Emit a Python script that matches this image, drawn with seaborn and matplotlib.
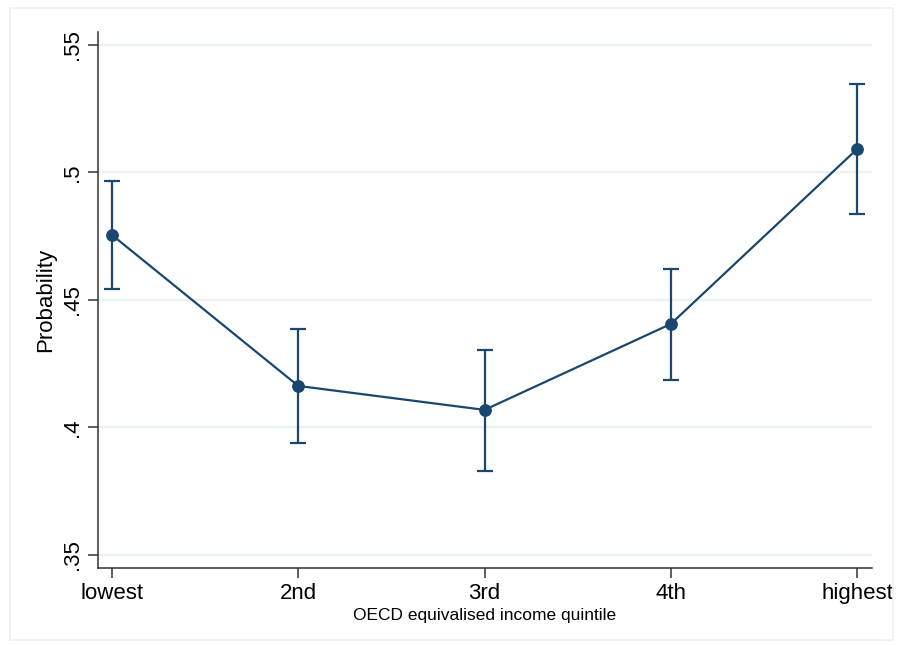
import pandas as pd
import matplotlib.pyplot as plt
import seaborn as sns
from matplotlib.patches import Rectangle

# Predicted probability by income quintile, with 95% CI
quintiles = ['lowest', '2nd', '3rd', '4th', 'highest']
prob = [0.4755, 0.4163, 0.4069, 0.4406, 0.5092]
ci_low = [0.4543, 0.3939, 0.3829, 0.4186, 0.4837]
ci_high = [0.4967, 0.4386, 0.4304, 0.4622, 0.5347]
y_ticks = [0.35, 0.40, 0.45, 0.50, 0.55]
y_labels = ['.35', '.4', '.45', '.5', '.55']

navy = '#1a476f'
grid_col = '#eaf2f3'

df = pd.DataFrame({'quintile': quintiles, 'prob': prob,
                   'lo': ci_low, 'hi': ci_high})

sns.set_style('white')
plt.rcParams['font.family'] = ['Liberation Sans', 'DejaVu Sans']
plt.rcParams['text.color'] = 'black'
plt.rcParams['axes.labelcolor'] = 'black'
plt.rcParams['xtick.color'] = 'black'
plt.rcParams['ytick.color'] = 'black'

fig = plt.figure(figsize=(8.99, 6.45), dpi=100)
ax = fig.add_axes([0.109, 0.1194, 0.861, 0.831])

# outer frame like Stata's graph region
fig.patches.append(Rectangle((10 / 899, 5 / 645), 883 / 899, 632 / 645,
                             transform=fig.transFigure, fill=False,
                             edgecolor=grid_col, linewidth=1.2))

for t in y_ticks:
    ax.axhline(t, color=grid_col, linewidth=1.5, zorder=0)

ax.errorbar(x=range(len(df)), y=df['prob'],
            yerr=[df['prob'] - df['lo'], df['hi'] - df['prob']],
            fmt='none', ecolor=navy, elinewidth=1.6, capsize=5.5,
            capthick=1.6, zorder=2)
sns.pointplot(data=df, x='quintile', y='prob', color=navy, errorbar=None,
              markersize=8, linewidth=1.6, ax=ax, zorder=3)

ax.set_xlim(-0.075, 4.08)
ax.set_ylim(0.3449, 0.5551)
ax.set_yticks(y_ticks)
ax.set_yticklabels(y_labels, rotation=90, va='center')
ax.set_xlabel('OECD equivalised income quintile', fontsize=12.5, labelpad=3)
ax.set_ylabel('Probability', fontsize=16, labelpad=4)
ax.tick_params(axis='both', labelsize=16, length=7, width=1.1,
               color='#333333', labelcolor='black', left=True, bottom=True,
               pad=4)

for side in ['top', 'right']:
    ax.spines[side].set_visible(False)
for side in ['left', 'bottom']:
    ax.spines[side].set_color('#333333')
    ax.spines[side].set_linewidth(1.1)

fig.savefig('out.png', dpi=100)
